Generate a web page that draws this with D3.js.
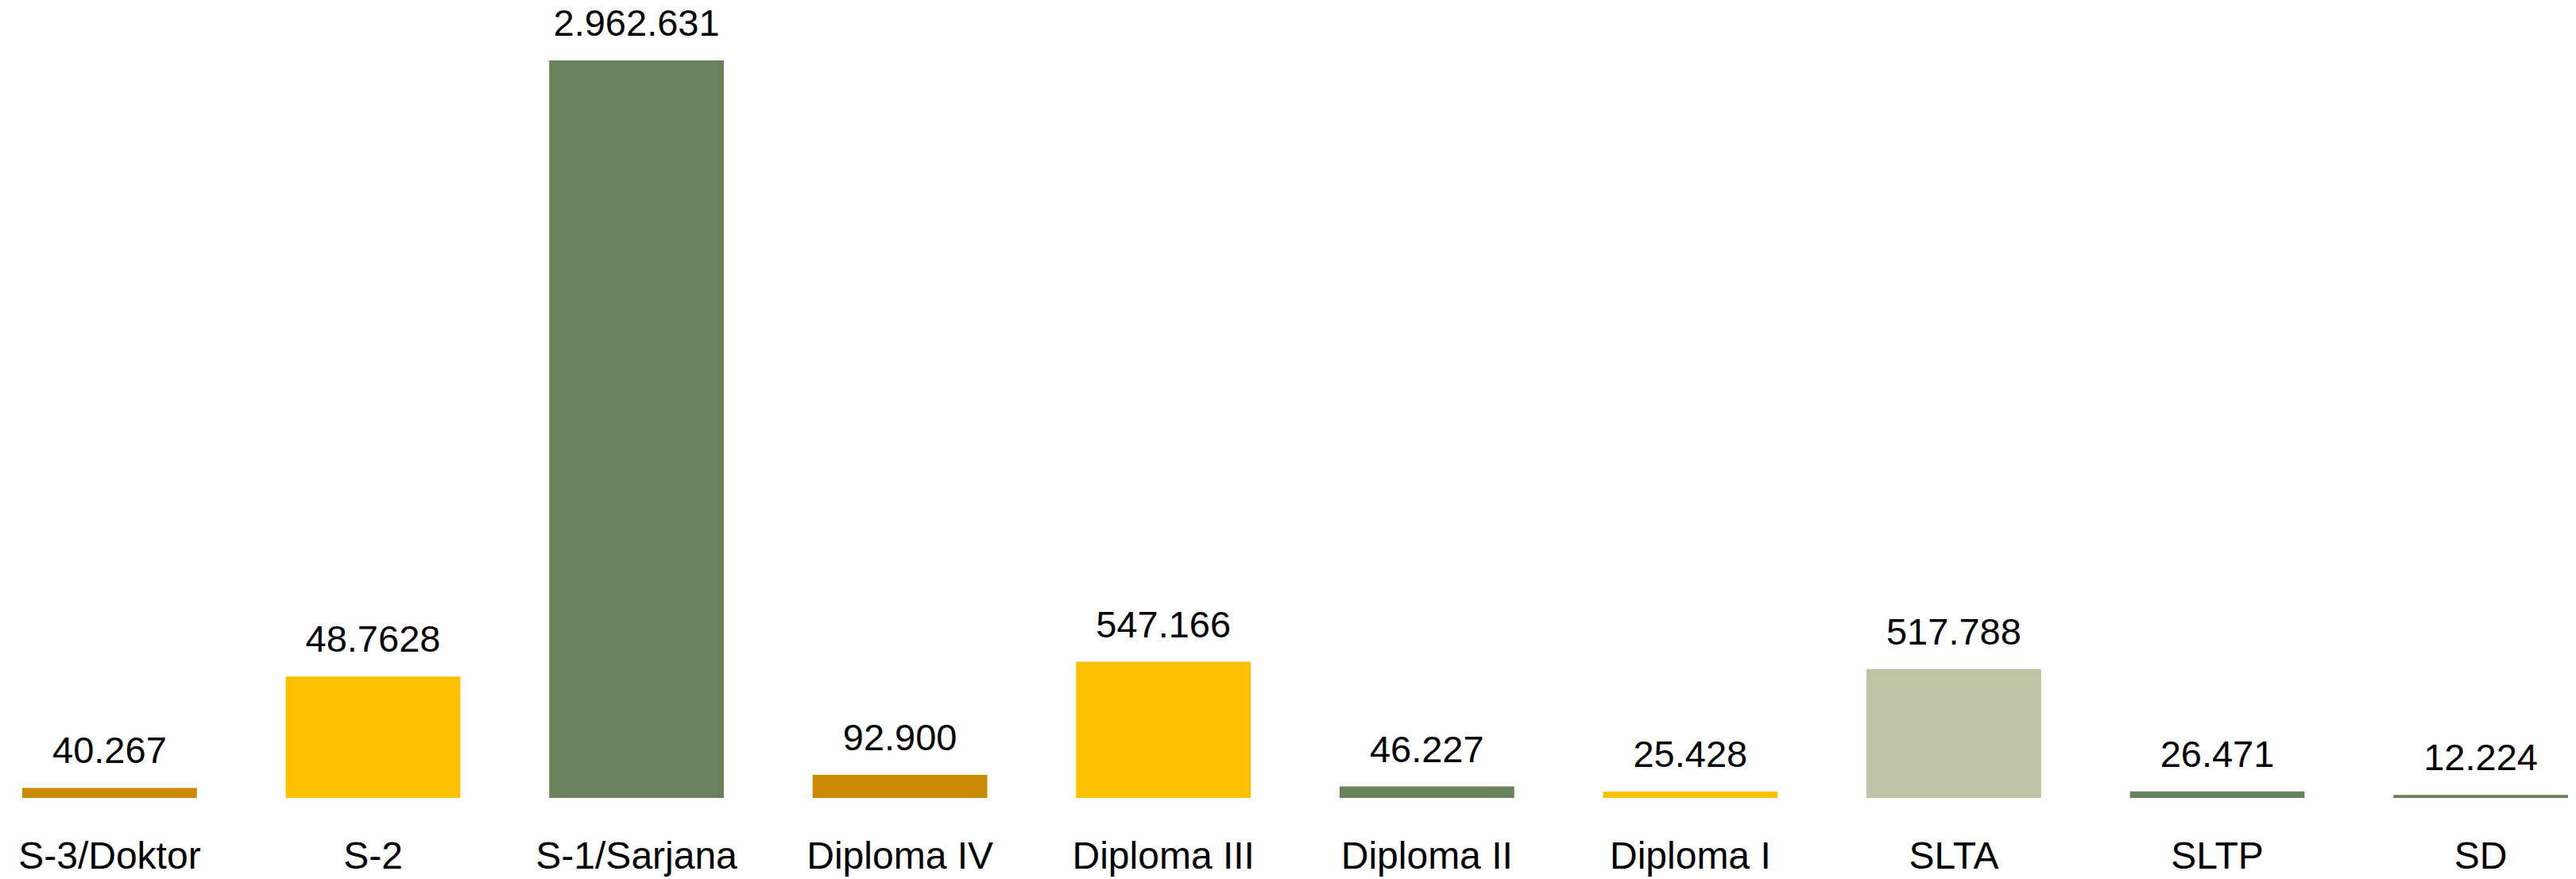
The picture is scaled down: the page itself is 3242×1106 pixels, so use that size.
<!DOCTYPE html>
<html>
<head>
<meta charset="utf-8">
<script src="https://cdn.jsdelivr.net/npm/d3@7"></script>
<style>
  html, body { margin: 0; padding: 0; background: #fff; }
</style>
</head>
<body>
<div class="container"></div>
<script>
const categories = ['S-3/Doktor', 'S-2', 'S-1/Sarjana', 'Diploma IV', 'Diploma III',
  'Diploma II', 'Diploma I', 'SLTA', 'SLTP', 'SD']
const values = [40267, 487628, 2962631, 92900, 547166, 46227, 25428, 517788, 26471, 12224]
// labels as printed on the chart (S-2 reads "48.7628" there)
const valueLabels = ['40.267', '48.7628', '2.962.631', '92.900', '547.166',
  '46.227', '25.428', '517.788', '26.471', '12.224']
const barColors = ['#c98a02', '#ffc000', '#6a825b', '#c98a02', '#ffc000',
  '#6a825b', '#ffc000', '#bfc3a6', '#6a825b', '#6a825b']

const w = 3242
const h = 1106
const base = 1004

const svg = d3.select('.container')
  .append('svg')
  .attr('width', w)
  .attr('height', h)

const xScale = d3.scaleBand()
  .domain(categories)
  .range([28, 3232])
  .paddingInner(0.337)
  .paddingOuter(0)

const yScale = d3.scaleLinear()
  .domain([0, d3.max(values)])
  .range([base, 76])

const rows = categories.map((c, i) => ({ cat: c, val: values[i], label: valueLabels[i], color: barColors[i] }))

svg.selectAll('rect.bar')
  .data(rows)
  .enter()
  .append('rect')
  .attr('class', 'bar')
  .attr('x', d => xScale(d.cat))
  .attr('y', d => yScale(d.val))
  .attr('width', xScale.bandwidth())
  .attr('height', d => base - yScale(d.val))
  .attr('fill', d => d.color)

svg.selectAll('text.val')
  .data(rows)
  .enter()
  .append('text')
  .attr('class', 'val')
  .text(d => d.label)
  .attr('x', d => xScale(d.cat) + xScale.bandwidth() / 2)
  .attr('y', d => yScale(d.val) - 31)
  .attr('text-anchor', 'middle')
  .attr('font-family', 'Liberation Sans, Arial, sans-serif')
  .attr('font-size', 47)
  .attr('fill', '#000')

const xAxis = d3.axisBottom(xScale).tickSize(0).tickPadding(0)

svg.append('g')
  .attr('transform', `translate(0, ${base})`)
  .call(xAxis)
  .call(g => g.select('.domain').remove())
  .selectAll('text')
  .attr('dy', null)
  .attr('y', 89)
  .attr('font-family', 'Liberation Sans, Arial, sans-serif')
  .attr('font-size', 48)
  .attr('fill', '#000')
</script>
</body>
</html>
